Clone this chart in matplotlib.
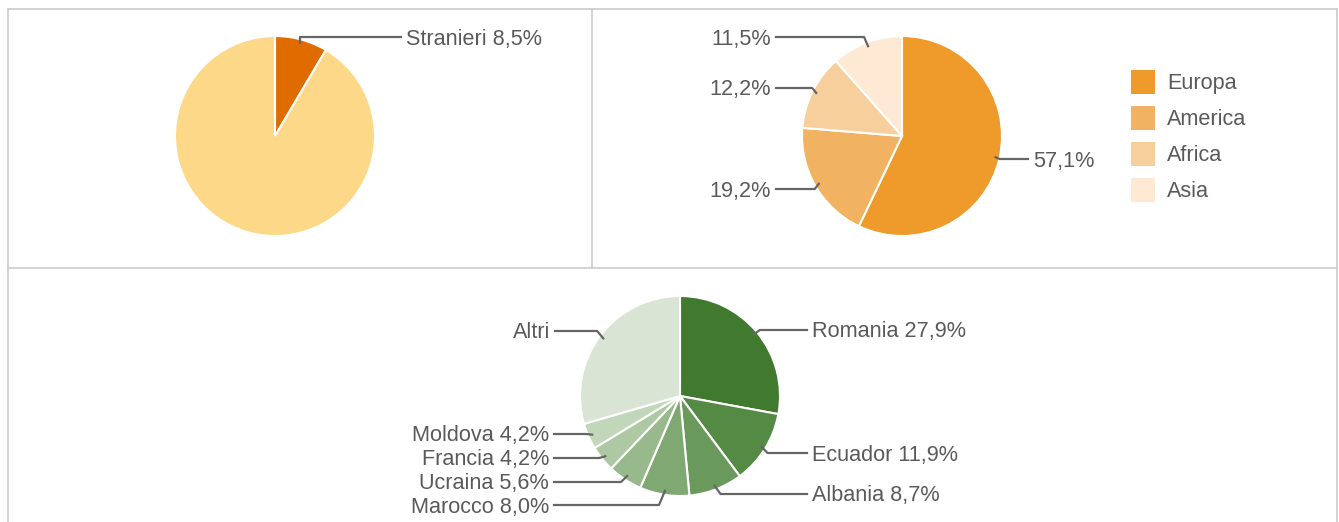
import matplotlib.pyplot as plt
import numpy as np

# dati
stranieri_labels = ['Stranieri', 'Italiani']
stranieri_vals = [8.5, 91.5]
stranieri_colors = ['#e06c00', '#fdd888']

area_labels = ['Europa', 'America', 'Africa', 'Asia']
area_vals = [57.1, 19.2, 12.2, 11.5]
area_colors = ['#ee9b2c', '#f1b262', '#f7cf9c', '#fde9d4']

paesi_labels = ['Romania', 'Ecuador', 'Albania', 'Marocco', 'Ucraina', 'Francia', 'Moldova', 'Altri']
paesi_vals = [27.9, 11.9, 8.7, 8.0, 5.6, 4.2, 4.2, 29.5]
paesi_colors = ['#3f7a2e', '#558a45', '#6a9a5b', '#80a872', '#98b98b', '#adc8a2', '#c2d6ba', '#d9e4d4']

W, H = 1339, 522
TXT = '#5a5a5a'
LINE = '#666666'
FS = 15.6

plt.rcParams['font.family'] = ['Liberation Sans', 'DejaVu Sans']

fig = plt.figure(figsize=(W / 100, H / 100), dpi=100)
ax = fig.add_axes([0, 0, 1, 1])


def fmt(v):
    return ('%.1f%%' % v).replace('.', ',')


def torta(vals, colors, cx, cy, r):
    wedges, _ = ax.pie(vals, colors=colors, startangle=90, counterclock=False,
                       center=(cx, H - cy), radius=r,
                       wedgeprops=dict(edgecolor='white', linewidth=1.5))
    return wedges


def etichetta(w, cx, cy, r, text, tx, ty, ha, dx=6):
    # punto sul bordo a meta' spicchio
    mid = np.deg2rad((w.theta1 + w.theta2) / 2)
    ax_ = cx + 0.96 * r * np.cos(mid)
    ay_ = (H - cy) + 0.96 * r * np.sin(mid)
    side = 1 if ha == 'left' else -1
    ex = ax_ + side * dx
    endx = tx - side * 5
    ax.plot([ax_, ex, endx], [ay_, H - ty, H - ty], color=LINE, lw=1.6,
            solid_joinstyle='round', zorder=3)
    ax.text(tx, H - ty - 7.5, text, ha=ha, va='baseline', fontsize=FS, color=TXT)


# torta 1
w1 = torta(stranieri_vals, stranieri_colors, 275, 136, 100)
etichetta(w1[0], 275, 136, 100, stranieri_labels[0] + ' ' + fmt(stranieri_vals[0]),
          406, 37, 'left', dx=0)

# torta 2
w2 = torta(area_vals, area_colors, 902, 136, 100)
pos2 = [(1033, 159, 'left'), (771, 189, 'right'), (771, 88, 'right'), (771, 37, 'right')]
for w, v, (tx, ty, ha) in zip(w2, area_vals, pos2):
    etichetta(w, 902, 136, 100, fmt(v), tx, ty, ha, dx=4)

for i, (lab, col) in enumerate(zip(area_labels, area_colors)):
    yc = 81.5 + i * 36
    ax.add_patch(plt.Rectangle((1131, H - yc - 12), 24, 24, color=col, lw=0))
    ax.text(1167, H - yc - 7.5, lab, ha='left', va='baseline', fontsize=FS, color=TXT)

# torta 3
w3 = torta(paesi_vals, paesi_colors, 680, 396, 100)
pos3 = [(812, 330, 'left'), (812, 453, 'left'), (812, 494, 'left'),
        (549, 505, 'right'), (549, 482, 'right'), (549, 458, 'right'),
        (549, 434, 'right'), (550, 331, 'right')]
for w, lab, v, (tx, ty, ha) in zip(w3, paesi_labels, paesi_vals, pos3):
    t = lab if lab == 'Altri' else lab + ' ' + fmt(v)
    etichetta(w, 680, 396, 100, t, tx, ty, ha)

# cornici
bc = '#cccccc'
for xs, ys in [([8, 1337], [9, 9]), ([8, 1337], [268, 268]), ([8, 8], [9, 522]),
               ([1337, 1337], [9, 522]), ([592, 592], [9, 268])]:
    ax.plot(xs, [H - y for y in ys], color=bc, lw=1.2, zorder=0)

ax.set_xlim(0, W)
ax.set_ylim(0, H)
ax.set_aspect('equal')
ax.axis('off')

fig.savefig('out.png', dpi=100, facecolor='white')
